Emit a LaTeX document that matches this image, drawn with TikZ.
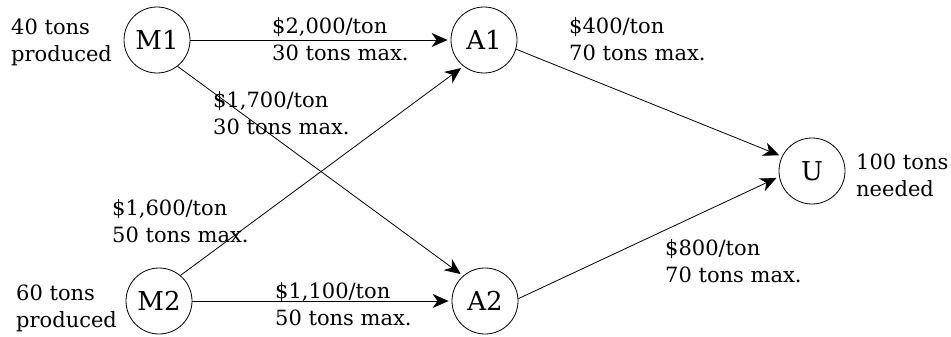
\documentclass[tikz,border=0pt]{standalone}
\usepackage{fontspec}
\setmainfont{DejaVu Serif}
\usetikzlibrary{arrows.meta}
\begin{document}
\begin{tikzpicture}[x=1pt,y=-1pt,
  place/.style={circle,draw,line width=0.8pt,minimum size=66pt,inner sep=0pt,
    font=\fontsize{26}{30}\selectfont},
  lbl/.style={align=left,anchor=base west,inner sep=0pt,
    font=\fontsize{21}{27}\selectfont},
  flow/.style={line width=0.8pt,shorten >=3pt,
    -{Stealth[length=16pt,width=14pt,inset=5pt]}}]
\useasboundingbox (0,0) rectangle (951,337);

% places
\node[place] (M1) at (157,40) {M1};
\node[place] (M2) at (159,301) {M2};
\node[place] (A1) at (484,40) {A1};
\node[place] (A2) at (485,301) {A2};
\node[place] (U)  at (812,171) {U};

% supply and demand (anchored at the baseline of the last line)
\node[lbl] (s1) at (11,62)  {40 tons\\produced};
\node[lbl] (s2) at (16,327) {60 tons\\produced};
\node[lbl] (d)  at (856,196) {100 tons\\needed};

% shipping routes
\draw[flow] (M1.east) -- (A1.west);
\draw[flow] (M2.east) -- (A2.west);
\draw[flow] (M1.-52) -- (A2.131);
\draw[flow] (M2.50) -- (A1.232);
\draw[flow] (A1.-16) -- (U.154);
\draw[flow] (A2.4) -- (U.190);

% route costs and capacities
\node[lbl] (c1) at (272,61)  {\$2,000/ton\\30 tons max.};
\node[lbl] (c2) at (213,134) {\$1,700/ton\\30 tons max.};
\node[lbl] (c3) at (112,242) {\$1,600/ton\\50 tons max.};
\node[lbl] (c4) at (275,325) {\$1,100/ton\\50 tons max.};
\node[lbl] (c5) at (569,61)  {\$400/ton\\70 tons max.};
\node[lbl] (c6) at (665,282) {\$800/ton\\70 tons max.};
\end{tikzpicture}
\end{document}
